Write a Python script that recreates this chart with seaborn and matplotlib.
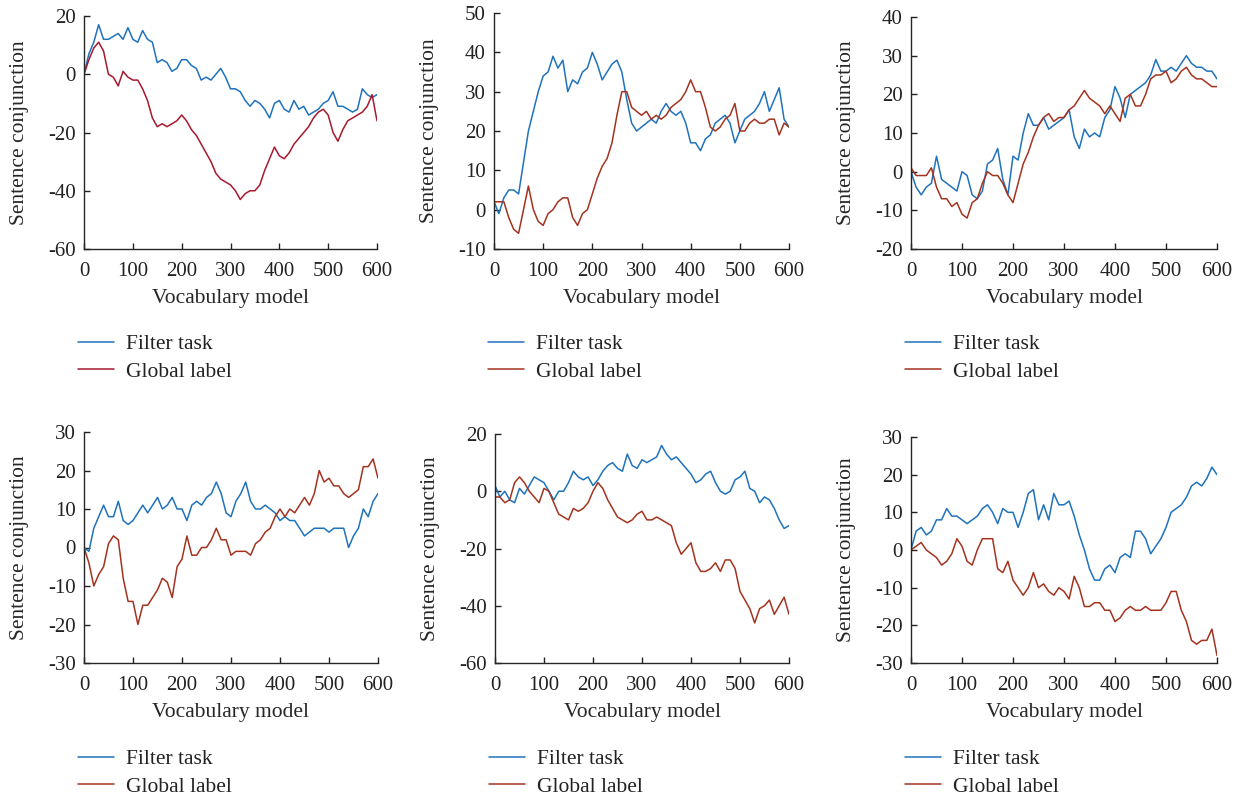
import matplotlib
matplotlib.use('Agg')
import matplotlib.pyplot as plt
import seaborn as sns

# values every 10 steps of the x axis
x_vals = list(range(0, 601, 10))

filter_1 = [0, 7, 11, 17, 12, 12, 13, 14, 12, 16,
            12, 11, 15, 12, 11, 4, 5, 4, 1, 2,
            5, 5, 3, 2, -2, -1, -2, 0, 2, -1,
            -5, -5, -6, -9, -11, -9, -10, -12, -15, -10,
            -9, -12, -13, -9, -12, -11, -14, -13, -12, -10,
            -9, -6, -11, -11, -12, -13, -12, -5, -7, -8,
            -7]
global_1 = [0, 5, 9, 11, 8, 0, -1, -4, 1, -1,
            -2, -2, -5, -9, -15, -18, -17, -18, -17, -16,
            -14, -16, -19, -21, -24, -27, -30, -34, -36, -37,
            -38, -40, -43, -41, -40, -40, -38, -33, -29, -25,
            -28, -29, -27, -24, -22, -20, -18, -15, -13, -12,
            -14, -20, -23, -19, -16, -15, -14, -13, -11, -7,
            -16]

filter_2 = [2, -1, 3, 5, 5, 4, 12, 20, 25, 30,
            34, 35, 39, 36, 38, 30, 33, 32, 35, 36,
            40, 37, 33, 35, 37, 38, 35, 28, 22, 20,
            21, 22, 23, 22, 25, 27, 25, 24, 25, 22,
            17, 17, 15, 18, 19, 22, 23, 24, 22, 17,
            20, 23, 24, 25, 27, 30, 25, 28, 31, 23,
            21]
global_2 = [2, 2, 2, -2, -5, -6, 0, 6, 0, -3,
            -4, -1, 0, 2, 3, 3, -2, -4, -1, 0,
            4, 8, 11, 13, 17, 24, 30, 30, 26, 25,
            24, 25, 23, 24, 23, 24, 26, 27, 28, 30,
            33, 30, 30, 26, 21, 20, 21, 23, 24, 27,
            20, 20, 22, 23, 22, 22, 23, 23, 19, 22,
            21]

filter_3 = [0, -4, -6, -4, -3, 4, -2, -3, -4, -5,
            0, -1, -6, -7, -5, 2, 3, 6, -2, -6,
            4, 3, 10, 15, 12, 12, 14, 11, 12, 13,
            14, 16, 9, 6, 11, 9, 10, 9, 14, 16,
            22, 19, 14, 20, 21, 22, 23, 25, 29, 26,
            26, 27, 26, 28, 30, 28, 27, 27, 26, 26,
            24]
global_3 = [1, -1, -1, -1, 1, -4, -7, -7, -9, -8,
            -11, -12, -8, -7, -3, 0, -1, -1, -3, -6,
            -8, -3, 2, 5, 9, 12, 14, 15, 13, 14,
            14, 16, 17, 19, 21, 19, 18, 17, 15, 17,
            15, 13, 19, 20, 17, 17, 20, 24, 25, 25,
            26, 23, 24, 26, 27, 25, 24, 24, 23, 22,
            22]

filter_4 = [0, -1, 5, 8, 11, 8, 8, 12, 7, 6,
            7, 9, 11, 9, 11, 13, 10, 11, 13, 10,
            10, 7, 11, 12, 11, 13, 14, 17, 14, 9,
            8, 12, 14, 17, 12, 10, 10, 11, 10, 9,
            7, 8, 7, 7, 5, 3, 4, 5, 5, 5,
            4, 5, 5, 5, 0, 3, 5, 10, 8, 12,
            14]
global_4 = [0, -4, -10, -7, -5, 1, 3, 2, -8, -14,
            -14, -20, -15, -15, -13, -11, -8, -9, -13, -5,
            -3, 3, -2, -2, 0, 0, 2, 5, 2, 2,
            -2, -1, -1, -1, -2, 1, 2, 4, 5, 8,
            10, 8, 10, 9, 11, 13, 11, 14, 20, 17,
            18, 16, 16, 14, 13, 14, 15, 21, 21, 23,
            18]

filter_5 = [2, -2, 0, -3, -4, 1, -1, 2, 5, 4,
            3, 0, -3, 0, 0, 3, 7, 5, 4, 5,
            2, 4, 7, 9, 10, 8, 7, 13, 9, 8,
            11, 10, 11, 12, 16, 13, 11, 12, 10, 8,
            6, 3, 4, 6, 7, 3, 0, -1, 0, 4,
            5, 7, 1, 0, -4, -2, -3, -6, -10, -13,
            -12]
global_5 = [-2, -2, -4, -3, 3, 5, 3, 0, -2, -4,
            1, 0, -4, -8, -9, -10, -6, -7, -6, -4,
            0, 3, 1, -3, -6, -9, -10, -11, -10, -8,
            -7, -10, -10, -9, -10, -11, -12, -18, -22, -20,
            -18, -25, -28, -28, -27, -25, -28, -24, -24, -27,
            -35, -38, -41, -46, -41, -40, -38, -43, -40, -37,
            -43]

filter_6 = [0, 5, 6, 4, 5, 8, 8, 11, 9, 9,
            8, 7, 8, 9, 11, 12, 10, 7, 11, 10,
            10, 6, 10, 15, 16, 8, 12, 8, 15, 12,
            12, 13, 9, 4, 0, -5, -8, -8, -5, -4,
            -6, -2, -1, -2, 5, 5, 3, -1, 1, 3,
            6, 10, 11, 12, 14, 17, 18, 17, 19, 22,
            20]
global_6 = [0, 1, 2, 0, -1, -2, -4, -3, -1, 3,
            1, -3, -4, 0, 3, 3, 3, -5, -6, -3,
            -8, -10, -12, -10, -6, -10, -9, -11, -12, -10,
            -11, -13, -7, -10, -15, -15, -14, -14, -16, -16,
            -19, -18, -16, -15, -16, -16, -15, -16, -16, -16,
            -14, -11, -11, -16, -19, -24, -25, -24, -24, -21,
            -28]

y_ranges = [(-60, 20, 20), (-10, 50, 10), (-20, 40, 10),
            (-30, 30, 10), (-60, 20, 20), (-30, 30, 10)]
x_ticks = [0, 100, 200, 300, 400, 500, 600]
series_names = ['Filter task', 'Global label']
x_title = 'Vocabulary model'
y_title = 'Sentence conjunction'

filters = [filter_1, filter_2, filter_3, filter_4, filter_5, filter_6]
globals_ = [global_1, global_2, global_3, global_4, global_5, global_6]

blue = '#1f72bc'
reds = ['#a8182e', '#a3331f', '#a3331f', '#a3331f', '#a3331f', '#a3331f']

sns.set_style('ticks')
plt.rcParams['font.family'] = ['Liberation Serif', 'DejaVu Serif']
plt.rcParams['font.size'] = 15
plt.rcParams['axes.linewidth'] = 1.0
plt.rcParams['axes.unicode_minus'] = False  # reference uses plain hyphens
plt.rcParams['text.color'] = '#222222'

W, H = 1243, 797
fig = plt.figure(figsize=(W / 100, H / 100), dpi=100)

# axes boxes in pixels: left, right, top, bottom
boxes = [(84, 377, 16, 249), (494, 789, 13, 249), (911, 1217, 17, 249),
         (84, 378, 432, 663), (495, 789, 434, 663), (911, 1217, 437, 663)]
legend_tops = [334, 334, 334, 749, 749, 749]

for i in range(6):
    l, r, t, b = boxes[i]
    ax = fig.add_axes([l / W, 1 - b / H, (r - l) / W, (b - t) / H])
    sns.lineplot(x=x_vals, y=filters[i], ax=ax, color=blue, linewidth=1.1,
                 label=series_names[0])
    sns.lineplot(x=x_vals, y=globals_[i], ax=ax, color=reds[i], linewidth=1.1,
                 label=series_names[1])
    lo, hi, step = y_ranges[i]
    ax.set_xlim(0, 600)
    ax.set_ylim(lo, hi)
    ax.set_xticks(x_ticks)
    ax.set_yticks(list(range(lo, hi + 1, step)))
    ax.tick_params(direction='in', length=4, width=1.0, colors='#222222',
                   labelsize=15, pad=6)
    ax.tick_params(axis='x', pad=9)
    sns.despine(ax=ax)
    ax.set_xlabel(x_title, fontsize=15.5, labelpad=6)
    ax.set_ylabel(y_title, fontsize=15.5)
    ax.yaxis.set_label_coords(-55 / (r - l), 0.5)
    ax.legend(loc='upper left', bbox_to_anchor=((l - 6) / W, 1 - legend_tops[i] / H),
              bbox_transform=fig.transFigure, frameon=False, borderpad=0,
              borderaxespad=0, handlelength=1.65, handletextpad=0.6,
              labelspacing=0.35, fontsize=15.5)

fig.savefig('out.png', dpi=100)
